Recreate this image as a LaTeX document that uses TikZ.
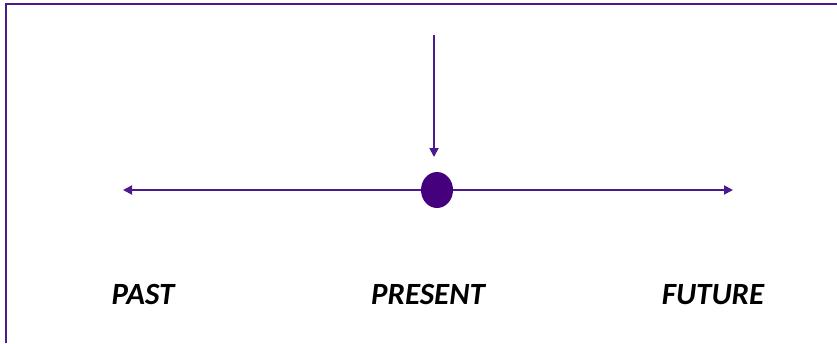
\documentclass[tikz,border=0pt]{standalone}
\usepackage{fontspec}
\setmainfont{Carlito}
\usetikzlibrary{arrows.meta,positioning,shapes.geometric}
\definecolor{indigox}{HTML}{4B1A8C}
\definecolor{dotx}{HTML}{45007E}
\tikzset{
  ar/.style={-{Triangle[length=9bp,width=9bp]},line width=1.8bp,indigox},
  frm/.style={line width=2.2bp,indigox},
  lbl/.style={font=\fontsize{31}{36}\selectfont\bfseries\itshape,anchor=base,inner sep=0pt}
}
\begin{document}
\begin{tikzpicture}[x=1bp,y=-1bp]
\useasboundingbox (0,0) rectangle (837,343);
\draw[frm] (6,343)--(6,4)--(837,4);
\node[ellipse,fill=dotx,minimum width=32bp,minimum height=36bp,inner sep=0pt] (now) at (437,190) {};
\coordinate (pastend) at (123,190);
\coordinate (futend) at (733,190);
\coordinate (top) at (434,35);
\coordinate (topend) at (434,157);
\draw[ar] (now.west)--(pastend);
\draw[ar] (now.east)--(futend);
\draw[ar] (top)--(topend);
\node[lbl] (past) at (143,304) {PAST};
\node[lbl] (present) at (428,304) {PRESENT};
\node[lbl] (future) at (713,304) {FUTURE};
\end{tikzpicture}
\end{document}
